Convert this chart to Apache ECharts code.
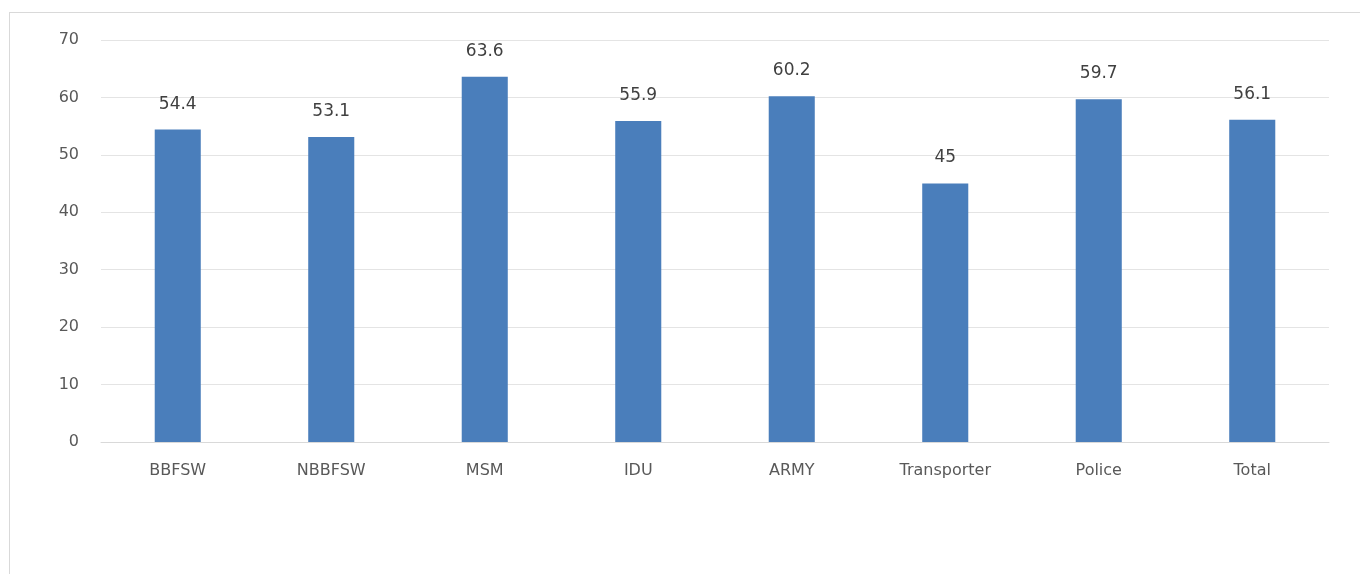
<!DOCTYPE html>
<html>
<head>
<meta charset="utf-8">
<script src="https://cdn.jsdelivr.net/npm/echarts@6/dist/echarts.min.js"></script>
<style>
  html, body { margin: 0; padding: 0; background: #ffffff; }
  #frame { position: absolute; left: 9px; top: 12px; width: 1360px; height: 600px; border: 1px solid #d9d9d9; box-sizing: border-box; }
  #chart { position: absolute; left: 0; top: 0; width: 1360px; height: 574px; }
</style>
</head>
<body>
<div id="frame"></div>
<div id="chart"></div>
<script>
// Groups shown along the x axis
const categories = ['BBFSW', 'NBBFSW', 'MSM', 'IDU', 'ARMY', 'Transporter', 'Police', 'Total'];
// Percentage value for each group
const values = [54.4, 53.1, 63.6, 55.9, 60.2, 45, 59.7, 56.1];
// Value axis range
const yMin = 0, yMax = 70, yStep = 10;

const chart = echarts.init(document.getElementById('chart'), null, { renderer: 'canvas' });
const textFont = "'DejaVu Sans', 'Liberation Sans', sans-serif";

chart.setOption({
  backgroundColor: 'transparent',
  animation: false,
  grid: { left: 101, right: 31, top: 40, bottom: 132 },
  xAxis: {
    type: 'category',
    data: categories,
    axisLine: { show: true, lineStyle: { color: '#d9d9d9', width: 1 } },
    axisTick: { show: false },
    axisLabel: { color: '#595959', fontSize: 16, fontFamily: textFont, margin: 21 }
  },
  yAxis: {
    type: 'value',
    min: yMin, max: yMax, interval: yStep,
    axisLine: { show: false },
    axisTick: { show: false },
    axisLabel: { color: '#595959', fontSize: 16, fontFamily: textFont, margin: 22 },
    splitLine: { lineStyle: { color: '#e4e4e4', width: 1 } }
  },
  series: [{
    type: 'bar',
    data: values,
    barWidth: '30%',
    itemStyle: { color: '#4a7ebb' },
    label: {
      show: true, position: 'top', distance: 17,
      color: '#404040', fontSize: 17, fontFamily: textFont
    }
  }]
});
</script>
</body>
</html>
